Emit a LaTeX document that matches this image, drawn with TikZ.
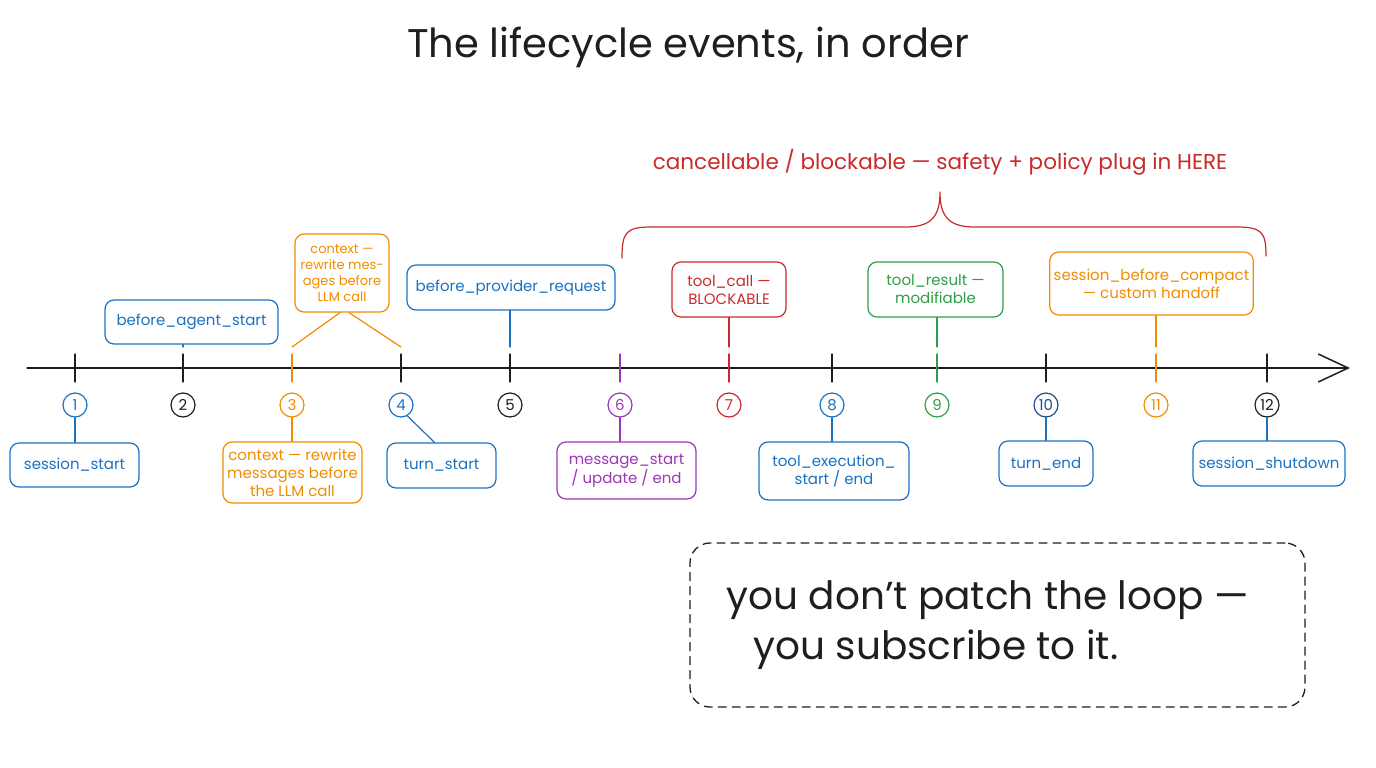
\documentclass[tikz,border=0pt]{standalone}
\usepackage{fontspec}
\setmainfont{Poppins}
\usetikzlibrary{arrows.meta}
\definecolor{evblue}{HTML}{1971C2}
\definecolor{evnavy}{HTML}{1E4E8C}
\definecolor{evorange}{HTML}{F08C00}
\definecolor{evred}{HTML}{C92A2A}
\definecolor{evgreen}{HTML}{2F9E44}
\definecolor{evpurple}{HTML}{9C36B5}
\definecolor{evink}{HTML}{1E1E1E}
\begin{document}
\begin{tikzpicture}[line join=round, line cap=round, x=1pt, y=-1pt]
    \tikzset{
        event box/.style={draw, rounded corners=9pt, line width=1.2pt, align=center,
            font=\fontsize{15}{18}\selectfont, inner sep=4pt},
        step circle/.style={draw, circle, line width=1.2pt, minimum size=24pt, inner sep=0pt,
            font=\fontsize{15}{15}\selectfont},
        link/.style={line width=1.2pt}
    }
    \useasboundingbox (0,0) rectangle (1376,768);
    \node[text=evink, font=\fontsize{40}{44}\selectfont] (title) at (688,47) {The lifecycle events, in order};

    \coordinate (axs) at (27,368);
    \coordinate (axe) at (1350,368);
    \draw[line width=1.5pt, evink, -{Straight Barb[length=30pt, width=28pt, line width=1.5pt]}] (axs) -- (axe);
    \foreach \x/\n/\tc/\cc in {75/1/evink/evblue, 183/2/evink/evink, 292/3/evorange/evorange,
        401/4/evink/evblue, 510/5/evink/evink, 620/6/evpurple/evpurple, 729/7/evred/evred,
        832/8/evink/evblue, 937/9/evgreen/evgreen, 1046/10/evink/evnavy,
        1156/11/evorange/evorange, 1267/12/evink/evink}{
        \coordinate (up\n) at (\x,347);
        \draw[link, \tc] (\x,354) -- (\x,382);
        \node[step circle, draw=\cc, text=\cc] (c\n) at (\x,405) {\n};
    }

    % below the line
    \node[event box, evblue, minimum width=129pt, minimum height=44pt] (sst) at (74.5,465) {session\_start};
    \node[event box, evorange, minimum width=139pt, minimum height=61pt] (ctxlo) at (292.5,472.5) {context — rewrite\\messages before\\the LLM call};
    \node[event box, evblue, minimum width=109pt, minimum height=45pt] (tst) at (441.5,465.5) {turn\_start};
    \node[event box, evpurple, minimum width=139pt, minimum height=57pt] (msg) at (626.5,470.5) {message\_start\\/ update / end};
    \node[event box, evblue, minimum width=150pt, minimum height=58pt] (tex) at (834,471) {tool\_execution\_\\start / end};
    \node[event box, evblue, minimum width=94pt, minimum height=45pt] (ten) at (1046,463.5) {turn\_end};
    \node[event box, evblue, minimum width=152pt, minimum height=45pt] (ssd) at (1269,463.5) {session\_shutdown};
    \draw[link, evblue] (c1.south) -- (c1.south |- sst.north);
    \draw[link, evorange] (c3.south) -- (c3.south |- ctxlo.north);
    \draw[link, evblue] (c4.-60) -- ([xshift=-7pt]tst.north);
    \draw[link, evpurple] (c6.south) -- (c6.south |- msg.north);
    \draw[link, evblue] (c8.south) -- (c8.south |- tex.north);
    \draw[link, evblue] (c10.south) -- (c10.south |- ten.north);
    \draw[link, evblue] (c12.south) -- (c12.south |- ssd.north);

    % above the line
    \node[event box, evblue, minimum width=173pt, minimum height=44pt] (bas) at (191.5,322) {before\_agent\_start};
    \node[event box, evorange, minimum width=94pt, minimum height=78pt, font=\fontsize{13}{16}\selectfont] (ctxup) at (342,273) {context —\\rewrite mes-\\ages before\\LLM call};
    \node[event box, evblue, minimum width=208pt, minimum height=45pt] (bpr) at (511,287.5) {before\_provider\_request};
    \node[event box, evred, minimum width=114pt, minimum height=55pt] (tcl) at (729,289.5) {tool\_call —\\BLOCKABLE};
    \node[event box, evgreen, minimum width=135pt, minimum height=55pt] (tre) at (935.5,289.5) {tool\_result —\\modifiable};
    \node[event box, evorange, minimum width=203pt, minimum height=63pt] (sbc) at (1151.5,283.5) {session\_before\_compact\\— custom handoff};
    \draw[link, evblue] (up2 |- bas.south) -- (up2);
    \draw[link, evorange] ([xshift=-2pt]ctxup.south) -- (up3);
    \draw[link, evorange] ([xshift=7pt]ctxup.south) -- (up4);
    \draw[link, evblue] (up5 |- bpr.south) -- (up5);
    \draw[link, evred] (up7 |- tcl.south) -- (up7);
    \draw[link, evgreen] (up9 |- tre.south) -- (up9);
    \draw[link, evorange] (up11 |- sbc.south) -- (up11);

    \coordinate (brl) at (622,258);
    \coordinate (brm) at (940,192);
    \coordinate (brr) at (1266,256);
    \draw[link, evred] (brl) .. controls (622,232) and (626,227) .. (652,227) -- (905,227)
        .. controls (930,227) and (940,218) .. (brm) .. controls (940,218) and (950,227) .. (975,227)
        -- (1236,227) .. controls (1262,227) and (1266,232) .. (brr);
    \node[evred, font=\fontsize{21.5}{24}\selectfont] (brlbl) at (940,162) {cancellable / blockable — safety + policy plug in HERE};

    \node[draw, evink, line width=1.3pt, dash pattern=on 8pt off 6pt, rounded corners=20pt, minimum width=615pt, minimum height=164pt] (note) at (997.5,625) {};
    \node[anchor=west, align=left, text=evink, font=\fontsize{39}{50}\selectfont] (notetxt) at (723,625) {you don’t patch the loop —\\\hspace*{27pt}you subscribe to it.};
\end{tikzpicture}
\end{document}
